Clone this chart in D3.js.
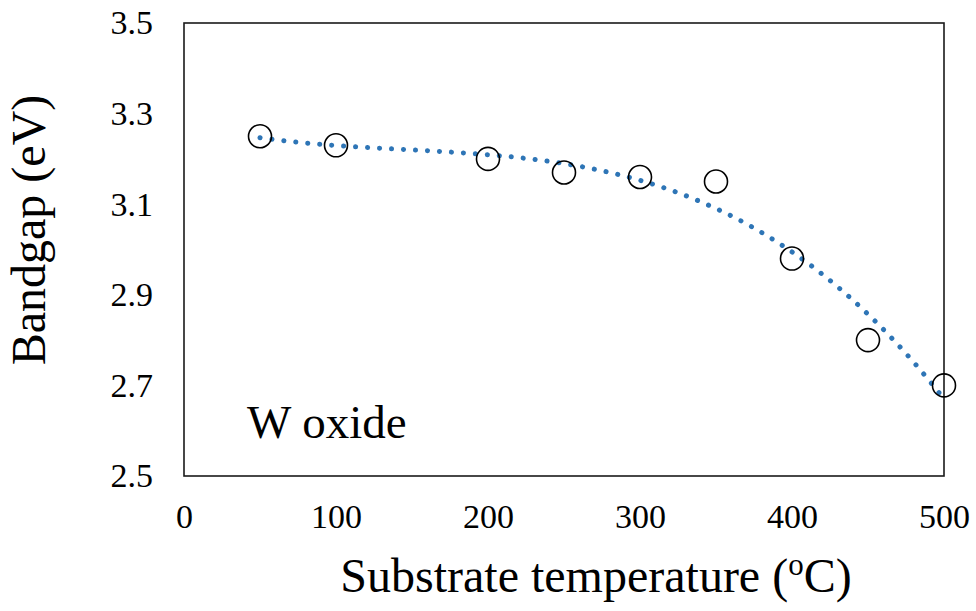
<!DOCTYPE html>
<html><head><meta charset="utf-8">
<script src="https://cdn.jsdelivr.net/npm/d3@7"></script>
<style>body{margin:0;background:#fff}</style>
</head><body>
<svg id="c" width="976" height="611"></svg>
<script>
const temps = [50, 100, 200, 250, 300, 350, 400, 450, 500];
const bandgap = [3.25, 3.23, 3.20, 3.17, 3.16, 3.15, 2.98, 2.80, 2.70];
const xTicks = [0, 100, 200, 300, 400, 500];
const yTicks = [2.5, 2.7, 2.9, 3.1, 3.3, 3.5];

const svg = d3.select("#c");
const m = {l:184, r:944, t:23, b:476};
const x = d3.scaleLinear().domain([0,500]).range([m.l, m.r]);
const y = d3.scaleLinear().domain([2.5,3.5]).range([m.b, m.t]);
const font = "'Liberation Serif','Times New Roman',serif";

// polynomial least squares trendline (fit computed from the data)
function polyfit(xs, ys, deg){
  const n = deg+1;
  const sx = xs.map(v=>v/100);
  const A = Array.from({length:n},()=>Array(n+1).fill(0));
  sx.forEach((xv,i)=>{
    for(let r=0;r<n;r++){
      for(let c=0;c<n;c++) A[r][c]+=Math.pow(xv,r+c);
      A[r][n]+=ys[i]*Math.pow(xv,r);
    }
  });
  for(let i=0;i<n;i++){
    let p=i; for(let k=i+1;k<n;k++) if(Math.abs(A[k][i])>Math.abs(A[p][i])) p=k;
    [A[i],A[p]]=[A[p],A[i]];
    for(let k=0;k<n;k++){ if(k===i) continue; const f=A[k][i]/A[i][i]; for(let c=i;c<=n;c++) A[k][c]-=f*A[i][c]; }
  }
  const co = A.map((row,i)=>row[n]/row[i]);
  return t => co.reduce((s,c,i)=>s+c*Math.pow(t/100,i),0);
}
const fit = polyfit(temps, bandgap, 3);
const trend = d3.range(50, 500.01, 1).map(t=>[t, fit(t)]);

svg.append("path")
  .datum(trend)
  .attr("d", d3.line().x(d=>x(d[0])).y(d=>y(d[1])))
  .attr("fill","none").attr("stroke","#2e75b6").attr("stroke-width",5)
  .attr("stroke-linecap","round").attr("stroke-dasharray","0.1 11.9");

// plot border
svg.append("rect").attr("x",m.l).attr("y",m.t).attr("width",m.r-m.l).attr("height",m.b-m.t)
  .attr("fill","none").attr("stroke","#1a1a1a").attr("stroke-width",1.6);

// points
svg.selectAll("circle.pt").data(temps).join("circle").attr("class","pt")
  .attr("cx",(d)=>x(d)).attr("cy",(d,i)=>y(bandgap[i])).attr("r",11.5)
  .attr("fill","none").attr("stroke","#000").attr("stroke-width",1.6);

// axes labels
const xa = svg.append("g").attr("transform",`translate(0,${m.b})`)
  .call(d3.axisBottom(x).tickValues(xTicks).tickSize(0).tickPadding(28).tickFormat(d3.format("d")));
xa.select(".domain").remove();
xa.selectAll("text").attr("font-family",font).attr("font-size",34).attr("fill","#000");

const ya = svg.append("g").attr("transform",`translate(${m.l},0)`)
  .call(d3.axisLeft(y).tickValues(yTicks).tickSize(0).tickPadding(31).tickFormat(d3.format(".1f")));
ya.select(".domain").remove();
ya.selectAll("text").attr("font-family",font).attr("font-size",34).attr("fill","#000");

svg.append("text").attr("x",596).attr("y",592).attr("text-anchor","middle")
  .attr("font-family",font).attr("font-size",48)
  .html('Substrate temperature (<tspan baseline-shift="super" font-size="31">o</tspan>C)');

svg.append("text").attr("transform","translate(45,230) rotate(-90)").attr("text-anchor","middle")
  .attr("font-family",font).attr("font-size",48).text("Bandgap (eV)");

svg.append("text").attr("x",247).attr("y",438)
  .attr("font-family",font).attr("font-size",47).text("W oxide");
</script>
</body></html>
